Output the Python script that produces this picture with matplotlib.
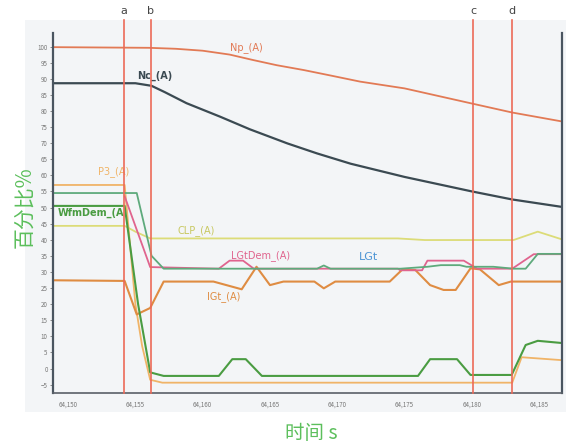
import matplotlib
matplotlib.use("Agg")
import matplotlib.pyplot as plt
from matplotlib.patches import Rectangle
from matplotlib.ticker import FuncFormatter

plt.rcParams['font.family'] = ['Noto Sans CJK SC', 'DejaVu Sans']

# ---- data ----
np_t = [64149, 64156, 64158, 64160, 64162, 64163.75, 64165.5, 64167.5, 64169.5, 64171.7, 64175, 64180, 64183, 64187]
np_v = [99.8, 99.6, 99.3, 98.7, 97.5, 95.8, 94.2, 92.7, 91.0, 89.1, 87.0, 82.3, 79.5, 76.5]

nc_t = [64149, 64155, 64156.2, 64157.2, 64158.8, 64161.3, 64163.5, 64166.3, 64168.5, 64171, 64175, 64180, 64183, 64187]
nc_v = [88.6, 88.6, 87.8, 85.8, 82.4, 78.2, 74.3, 69.9, 66.8, 63.6, 59.5, 55.0, 52.5, 50.0]

p3_t = [64149, 64154.2, 64155.0, 64155.5, 64156.1, 64157, 64183, 64183.7, 64187]
p3_v = [57, 57, 20, 7, -3.5, -4.4, -4.4, 3.5, 2.5]

lgt_t = [64149, 64155.1, 64156.2, 64157.1, 64168.5, 64169, 64169.5, 64174.7, 64176.7,
         64177.7, 64179.1, 64179.6, 64181.6, 64183.1, 64184.0, 64184.9, 64187]
lgt_v = [54.5, 54.5, 35, 31, 31, 32, 31, 31, 31.6, 32.1, 32.1, 31.6, 31.6, 31, 31, 35.6, 35.6]

lgtdem_t = [64154.2, 64156.1, 64161.2, 64162, 64163, 64163.8, 64174.5, 64174.7, 64176.3,
            64176.7, 64179.4, 64180.4, 64183, 64184.6, 64187]
lgtdem_v = [53.5, 31.5, 31, 33.5, 33.5, 31, 31, 30.5, 30.5, 33.5, 33.5, 31, 31, 35.5, 35.5]

igt_t = [64149, 64154.2, 64155.1, 64156.1, 64157.1, 64160.8, 64162.9, 64164.0, 64165.0,
         64166, 64168.3, 64169, 64169.85, 64173.9, 64174.8, 64175.8, 64176.9, 64177.9,
         64178.8, 64179.9, 64180.6, 64182.0, 64182.9, 64187]
igt_v = [27.4, 27.2, 16.8, 18.8, 27, 27, 24.6, 31.6, 25.9, 27, 27, 24.9, 27, 27, 30.6,
         30.6, 25.9, 24.4, 24.4, 31.1, 30.8, 25.9, 27, 27]

wfm_t = [64149, 64154.2, 64155.2, 64156.1, 64157.1, 64161.2, 64162.2, 64163.2, 64164.4,
         64176.0, 64176.9, 64178.9, 64179.9, 64182.96, 64184.0, 64184.9, 64187]
wfm_v = [50.5, 50.5, 20, -1.2, -2.3, -2.3, 2.9, 2.9, -2.3, -2.3, 2.9, 2.9, -2.0, -2.0, 7.3, 8.6, 7.8]

clp_t = [64149, 64154.2, 64155.0, 64156.1, 64174.5, 64176.5, 64183.1, 64184.9, 64187]
clp_v = [44.3, 44.3, 42.5, 40.4, 40.4, 39.9, 39.9, 42.5, 39.7]

marker_names = ['a', 'b', 'c', 'd']
marker_times = [64154.16, 64156.15, 64180.1, 64182.96]

x_ticks = [64150, 64155, 64160, 64165, 64170, 64175, 64180, 64185]
y_ticks = list(range(-5, 101, 5))

# ---- figure ----
fig = plt.figure(figsize=(5.66, 4.47), dpi=100)
fig.patch.set_facecolor('white')
# light grey scan background behind the plot
fig.patches.append(Rectangle((25 / 566, 1 - 412 / 447), 1 - 25 / 566, (412 - 20) / 447,
                             transform=fig.transFigure, facecolor='#f3f5f7',
                             edgecolor='none', zorder=-10))

ax = fig.add_axes([53.3 / 566, 1 - 393.3 / 447, (562 - 53.3) / 566, (393.3 - 33) / 447])
ax.set_facecolor('none')
ax.set_xlim(64148.9, 64186.7)
ax.set_ylim(-7.7, 104.2)

lw = 1.3
ax.plot(np_t, np_v, color='#e27a55', lw=lw)
ax.plot(nc_t, nc_v, color='#3b4a52', lw=1.6)
ax.plot(clp_t, clp_v, color='#dcdc78', lw=lw)
ax.plot(p3_t, p3_v, color='#f0b468', lw=lw)
ax.plot(igt_t, igt_v, color='#df8c42', lw=1.5)
ax.plot(lgtdem_t, lgtdem_v, color='#e0648e', lw=lw)
ax.plot(lgt_t, lgt_v, color='#5eaa7c', lw=lw)
ax.plot(wfm_t, wfm_v, color='#4a9c42', lw=1.5)

# event markers a-d
top_frac = (393.3 - 20) / (393.3 - 33)
label_frac = (393.3 - 11) / (393.3 - 33)
for name, t in zip(marker_names, marker_times):
    ax.axvline(t, ymin=0, ymax=top_frac, color='#ec6a58', lw=1.2, clip_on=False, zorder=5)
    ax.text(t, label_frac, name, transform=ax.get_xaxis_transform(),
            ha='center', va='center', fontsize=8, color='#444444', family='DejaVu Sans')

# series labels
lab = dict(fontsize=7, family='DejaVu Sans', va='center', ha='left')
ax.text(64162.0, 99.8, 'Np_(A)', color='#e27a55', **lab)
ax.text(64155.1, 91.0, 'Nc_(A)', color='#3b4a52', fontweight='bold', **lab)
ax.text(64152.2, 61.3, 'P3_(A)', color='#f0b468', **lab)
ax.text(64149.2, 48.3, 'WfmDem_(A', color='#4a9c42', fontweight='bold', **lab)
ax.text(64158.1, 42.7, 'CLP_(A)', color='#c8c860', **lab)
ax.text(64162.1, 35.0, 'LGtDem_(A)', color='#e0648e', **lab)
ax.text(64171.6, 34.6, 'LGt', color='#4c94d4', fontsize=8, family='DejaVu Sans', va='center')
ax.text(64160.3, 22.2, 'IGt_(A)', color='#df8c42', **lab)

# axes styling
ax.spines['top'].set_visible(False)
ax.spines['left'].set_color('#4a5560')
ax.spines['left'].set_linewidth(1.6)
ax.spines['right'].set_color('#4a5560')
ax.spines['right'].set_linewidth(1.6)
ax.spines['bottom'].set_color('#5a6068')
ax.spines['bottom'].set_linewidth(1.2)

ax.set_xticks(x_ticks)
ax.set_yticks(y_ticks)
ax.xaxis.set_major_formatter(FuncFormatter(lambda v, p: '{:,.0f}'.format(v)))
ax.tick_params(axis='both', labelsize=4.5, colors='#777777', length=2, width=0.6, pad=2)
ax.tick_params(axis='x', length=0, pad=5)

ax.set_xlabel('时间 s', fontsize=14, color='#5cbf5c', family=['Noto Sans CJK SC', 'DejaVu Sans'],
              va='center')
ax.xaxis.set_label_coords(0.507, -0.112)
ax.set_ylabel('百分比%', fontsize=15, color='#5cbf5c', family=['Noto Sans CJK SC', 'DejaVu Sans'])
ax.yaxis.set_label_coords(-0.036, 0.517)

fig.savefig('out.png', dpi=100)
